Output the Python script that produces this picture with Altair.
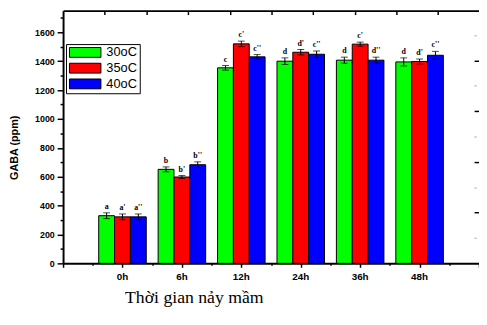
import altair as alt
import pandas as pd

times = ["0h", "6h", "12h", "24h", "36h", "48h"]
temps = ["30oC", "35oC", "40oC"]
colors = ["#00ff00", "#ff0000", "#0000ff"]

gaba_30 = [330, 651, 1354, 1400, 1407, 1395]
gaba_35 = [322, 598, 1520, 1462, 1518, 1398]
gaba_40 = [322, 683, 1430, 1448, 1407, 1441]

err_30 = [20, 17, 16, 23, 21, 28]
err_35 = [20, 10, 19, 19, 14, 17]
err_40 = [20, 20, 16, 22, 21, 27]

let_30 = ["a", "b", "c", "d", "d", "d"]
let_35 = ["a'", "b'", "c'", "d'", "c'", "d'"]
let_40 = ["a''", "b''", "c''", "c''", "d''", "c''"]

rows = []
for temp, vals, errs, lets in [
    ("30oC", gaba_30, err_30, let_30),
    ("35oC", gaba_35, err_35, let_35),
    ("40oC", gaba_40, err_40, let_40),
]:
    for t, v, e, l in zip(times, vals, errs, lets):
        rows.append({"time": t, "temp": temp, "value": v, "lo": v - e, "hi": v + e, "letter": l})
df = pd.DataFrame(rows)

W, H = 423, 257

x_enc = alt.X(
    "time:N", sort=times,
    scale=alt.Scale(paddingInner=0.2, paddingOuter=0.6),
    axis=alt.Axis(
        title="Thời gian nảy mầm", ticks=False, domain=False, tickSize=0,
        labelFont="Liberation Sans", labelFontWeight="bold", labelFontSize=10,
        labelPadding=8, labelAngle=0, labelColor="black",
        titleFont="Liberation Serif", titleFontWeight="normal", titleFontSize=18,
        titleX=133, titleY=40, titleAlign="center", titleBaseline="alphabetic",
        titleColor="black",
    ),
)
xoff_enc = alt.XOffset("temp:N", sort=temps, scale=alt.Scale(paddingInner=0, paddingOuter=0))

y_axis = alt.Axis(
    title="GABA (ppm)", values=list(range(0, 1800, 100)), format="d",
    labelExpr="datum.value % 200 === 0 ? datum.label : ''",
    tickSize={"condition": {"test": "datum.value % 200 === 0", "value": 6}, "value": 3},
    tickColor="black", tickWidth=1.5, domainColor="black", domainWidth=2,
    labelFont="Liberation Sans", labelFontWeight="bold", labelFontSize=9,
    labelColor="black", labelPadding=3,
    titleFont="Liberation Sans", titleFontWeight="bold", titleFontSize=11,
    titleColor="black", titleX=-49, titleY=139, titleAngle=270,
    titleAlign="center", titleBaseline="middle",
)
y_scale = alt.Scale(domain=[0, 1750], nice=False, zero=True)

def yq(field):
    return alt.Y(f"{field}:Q", scale=y_scale, axis=y_axis, title="GABA (ppm)")

base = alt.Chart(df)

bars = base.mark_bar(stroke="black", strokeWidth=1).encode(
    x=x_enc, xOffset=xoff_enc, y=yq("value"),
    color=alt.Color(
        "temp:N", sort=temps,
        scale=alt.Scale(domain=temps, range=colors),
        legend=alt.Legend(
            title=None, orient="none", legendX=3, legendY=34,
            symbolType="M-3.2,-1H3.2V1H-3.2Z", symbolSize=100,
            symbolOffset=11, labelOffset=15,
            symbolStrokeColor="black", symbolStrokeWidth=1, symbolOpacity=1,
            labelFont="Liberation Sans", labelFontSize=13, labelColor="black",
            strokeColor="black", fillColor="white", padding=2, rowPadding=1,
        ),
    ),
)

err_rule = base.mark_rule(color="black", strokeWidth=1).encode(
    x=x_enc, xOffset=xoff_enc, y=yq("lo"), y2="hi:Q"
)
cap_lo = base.mark_tick(color="black", thickness=1, size=7).encode(
    x=x_enc, xOffset=xoff_enc, y=yq("lo")
)
cap_hi = base.mark_tick(color="black", thickness=1, size=7).encode(
    x=x_enc, xOffset=xoff_enc, y=yq("hi")
)
letters = base.mark_text(
    font="Liberation Serif", fontWeight="bold", fontSize=8, baseline="alphabetic", dy=-4, color="black"
).encode(x=x_enc, xOffset=xoff_enc, y=yq("hi"), text="letter:N")

main = alt.layer(bars, err_rule, cap_lo, cap_hi, letters)

bottom_ticks = base.mark_rule(opacity=0).encode(
    x=alt.XDatum(0, type="quantitative",
                 scale=alt.Scale(domain=[0, 7], nice=False, zero=False),
                 axis=alt.Axis(orient="bottom", title=None, labels=False,
                               values=[i * 0.5 for i in range(15)],
                               tickSize={"condition": {"test": "datum.value % 1 === 0", "value": 4}, "value": 2},
                               tickColor="black", tickWidth=1.5,
                               domain=True, domainColor="black", domainWidth=2, grid=False))
)

top_domain = base.mark_rule(opacity=0).encode(
    x=alt.XDatum(0, type="quantitative",
                 scale=alt.Scale(domain=[0, 1], nice=False, zero=False),
                 axis=alt.Axis(orient="top", title=None, labels=False, ticks=False,
                               domain=True, domainColor="black", domainWidth=2, grid=False))
)

top_ticks = base.mark_rule(opacity=0).encode(
    x=alt.XDatum(0, type="quantitative",
                 scale=alt.Scale(domain=[0, 4.99], nice=False, zero=False),
                 axis=alt.Axis(orient="top", title=None, labels=False, offset=-4,
                               values=[i * 0.5 for i in range(1, 10)],
                               tickSize={"condition": {"test": "datum.value % 1 === 0", "value": 4}, "value": 3},
                               tickColor="black", tickWidth=1.5, domain=False, grid=False))
)

right_ticks = base.mark_rule(opacity=0).encode(
    y=alt.YDatum(0, type="quantitative",
                 scale=alt.Scale(domain=[0, 4.98], nice=False, zero=False),
                 axis=alt.Axis(orient="right", title=None, labels=False, offset=-5,
                               values=[i * 0.5 for i in range(1, 10)],
                               tickSize={"condition": {"test": "datum.value % 1 === 0", "value": 5}, "value": 2},
                               tickColor={"condition": {"test": "datum.value % 1 === 0", "value": "black"}, "value": "#bbbbbb"},
                               tickWidth=1.5, domain=False, grid=False))
)

chart = alt.layer(main, bottom_ticks, top_domain, top_ticks, right_ticks).resolve_scale(
    x="independent", y="independent"
).properties(
    width=W, height=H,
    autosize=alt.AutoSizeParams(type="none"),
    padding={"left": 56, "top": 0, "right": 0, "bottom": 60},
).configure_view(stroke=None).configure_axis(grid=False)

chart.save("out.html", embed_options={"renderer": "svg", "actions": False})
